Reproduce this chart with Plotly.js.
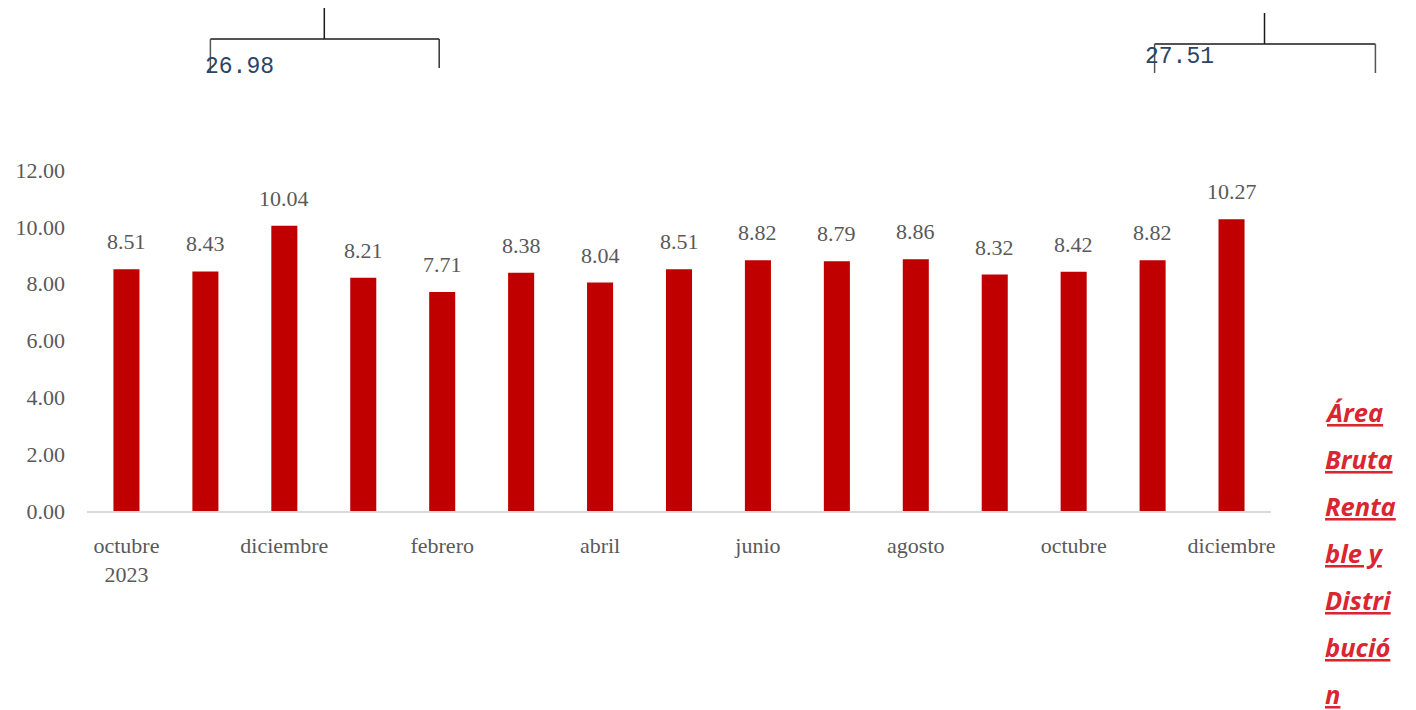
<!DOCTYPE html>
<html><head><meta charset="utf-8">
<script src="https://cdn.plot.ly/plotly-3.0.1.min.js"></script>
<style>html,body{margin:0;padding:0;background:#fff;}#chart{width:1416px;height:710px;}</style>
</head><body><div id="chart"></div>
<script>
const categories = ["octubre<br>2023","noviembre","diciembre","enero 2024","febrero","marzo","abril","mayo","junio","julio","agosto","septiembre","octubre","noviembre ","diciembre "];
const values = [8.51, 8.43, 10.04, 8.21, 7.71, 8.38, 8.04, 8.51, 8.82, 8.79, 8.86, 8.32, 8.42, 8.82, 10.27];
const tickShown = ["octubre<br>2023","diciembre","febrero","abril","junio","agosto","octubre","diciembre "];
const tickText = ["octubre<br>2023","diciembre","febrero","abril","junio","agosto","octubre","diciembre"];
const yTicks = [0, 2, 4, 6, 8, 10, 12];
const bracketTotals = [26.98, 27.51];
const sideLines = ["Área","Bruta","Renta","ble y","Distri","bució","n"];

const W = 1416, H = 710;
const mL = 86.5, mR = 144.5, mT = 170, mB = 199;
const pw = W - mL - mR, ph = H - mT - mB;
const px = x => (x - mL) / pw;
const py = y => (H - mB - y) / ph;

const serif = "'Liberation Serif', 'Times New Roman', serif";
const grey = "#595959";

const annotations = categories.map((c, i) => ({
  x: c, y: values[i], xref: 'x', yref: 'y', text: values[i].toFixed(2),
  showarrow: false, yanchor: 'bottom', yshift: 13,
  font: {family: serif, size: 22, color: grey}
}));

annotations.push({xref:'paper', yref:'paper', x: px(203), y: py(67), xanchor:'left', yanchor:'middle',
  text: bracketTotals[0].toFixed(2), showarrow:false,
  font:{family:"'Liberation Mono', monospace", size:23, color:'#2A4466'}});
annotations.push({xref:'paper', yref:'paper', x: px(1143), y: py(57), xanchor:'left', yanchor:'middle',
  text: bracketTotals[1].toFixed(2), showarrow:false,
  font:{family:"'Liberation Mono', monospace", size:23, color:'#2A4466'}});

sideLines.forEach((t, i) => {
  annotations.push({xref:'paper', yref:'paper', x: px(1324), y: py(412 + i * 47), xanchor:'left', yanchor:'middle',
    text: '<u><i><b>' + t + '</b></i></u>', showarrow:false,
    font:{family:"'Open Sans', sans-serif", size:25.5, color:'#DA2631'}});
});

const ln = (x0, y0, x1, y1, c) => ({type:'line', xref:'paper', yref:'paper',
  x0: px(x0), y0: py(y0), x1: px(x1), y1: py(y1), line:{color: c || '#1a1a1a', width: 1.5}});
const shapes = [
  ln(324, 8, 324, 39), ln(210, 39, 439, 39), ln(210, 39, 210, 72, '#555'), ln(439, 39, 439, 68, '#333'),
  ln(1265, 13, 1265, 44), ln(1155, 44, 1376, 44), ln(1155, 44, 1155, 73, '#555'), ln(1376, 44, 1376, 73, '#555')
];

const trace = {type:'bar', x: categories, y: values, marker:{color:'#C00000'}, width: 0.33, hoverinfo:'skip'};

const layout = {
  width: W, height: H, paper_bgcolor:'#fff', plot_bgcolor:'#fff',
  margin:{l:mL, r:mR, t:mT, b:mB, pad:0},
  showlegend:false,
  xaxis:{type:'category', tickvals: tickShown, ticktext: tickText, showgrid:false, zeroline:false,
    showline:true, linecolor:'#D9D9D9', linewidth:1.5, ticks:'', ticklabelstandoff: 14,
    tickfont:{family: serif, size:22, color: grey}, range:[-0.5, 14.5], fixedrange:true},
  yaxis:{range:[0, 12], tickvals: yTicks, ticktext: yTicks.map(v => v.toFixed(2)), showgrid:false,
    zeroline:false, showline:false, ticks:'', ticklabelstandoff: 21,
    tickfont:{family: serif, size:22, color: grey}, fixedrange:true},
  annotations, shapes
};
Plotly.newPlot('chart', [trace], layout, {displayModeBar:false, staticPlot:true});
</script></body></html>
